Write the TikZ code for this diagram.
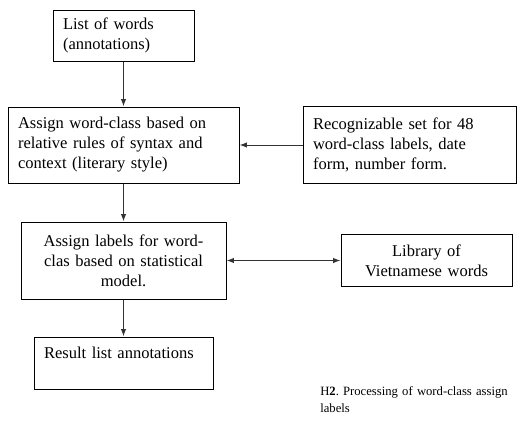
\documentclass[tikz,border=0pt]{standalone}
\usepackage{fontspec}
\setmainfont{Liberation Serif}
\usetikzlibrary{arrows.meta,positioning}

\begin{document}
\begin{tikzpicture}[
    x=0.75pt, y=-0.75pt,
    font=\fontsize{12.4}{15}\selectfont,
    box/.style={rectangle, draw, line width=0.75pt, inner xsep=7.5pt, inner ysep=0pt, align=left},
    cbox/.style={box, align=center},
    arrow/.style={-{Latex[length=5.5pt,width=4pt]}, draw=black!80, line width=0.75pt},
    twoway/.style={{Latex[length=5.5pt,width=4pt]}-{Latex[length=5.5pt,width=4pt]}, draw=black!80, line width=0.75pt}
]
    \useasboundingbox (0,0) rectangle (517,421);

    % Main column
    \node[box, text width=90.75pt, minimum height=38.25pt] (words) at (123.5,35.5) {List of words\\(annotations)};
    \node[box, text width=158.25pt, minimum height=57pt] (rules) at (123.5,145) {Assign word-class based on\\relative rules of syntax and\\context (literary style)};
    \node[cbox, text width=138.75pt, minimum height=57.75pt] (stat) at (123.5,260.5) {Assign labels for word-\\clas based on statistical\\model.};
    \node[box, text width=119.25pt, minimum height=39pt] (result) at (123.5,363) {Result list annotations\\~};

    % Side inputs
    \node[box, text width=144.75pt, minimum height=57.75pt] (recog) at (409.5,145) {Recognizable set for 48\\word-class labels,\ date\\form, number\ form.};
    \node[cbox, text width=113.25pt, minimum height=39pt] (lib) at (426.5,260.5) {Library of\\Vietnamese words};

    \draw[arrow] (words) -- (rules);
    \draw[arrow] (rules) -- (stat);
    \draw[arrow] (stat) -- (result);
    \draw[arrow] (recog) -- (rules);
    \draw[twoway] (stat) -- (lib);

    % Caption
    \node[anchor=north west, inner sep=0pt, text width=190pt, align=left, font=\fontsize{9.5}{12.75}\selectfont\frenchspacing] (caption) at (320,386) {H\textbf{2}. Processing of word-class assign\\labels};
\end{tikzpicture}
\end{document}
